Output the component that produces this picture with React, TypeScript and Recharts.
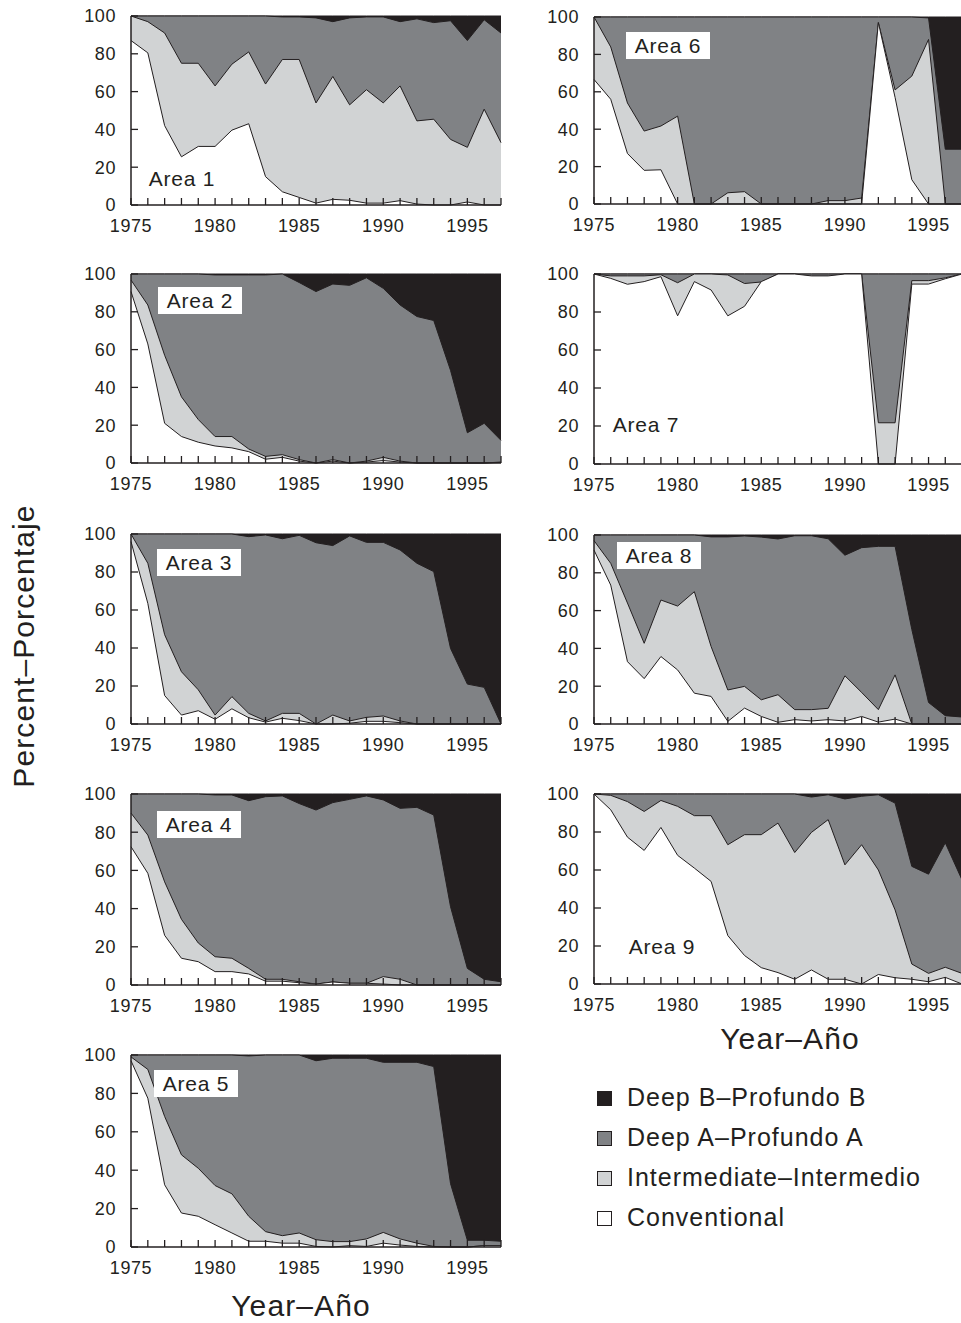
import { Area, AreaChart, XAxis, YAxis } from "recharts";

const INK = "#231f20";
const FILLS = {
  deepB: "#231f20",
  deepA: "#808285",
  intermediate: "#d1d3d4",
  conventional: "#ffffff",
};

const years = [
  1975, 1976, 1977, 1978, 1979, 1980, 1981, 1982, 1983, 1984, 1985, 1986,
  1987, 1988, 1989, 1990, 1991, 1992, 1993, 1994, 1995, 1996, 1997,
];
const yTicks = [0, 20, 40, 60, 80, 100];
const legendLabels = [
  "Deep B–Profundo B",
  "Deep A–Profundo A",
  "Intermediate–Intermedio",
  "Conventional",
];

// cumulative percent at the top of each class (conventional, + intermediate, + deep A)
const area1Conv = [87, 80.5, 42, 25.5, 31, 31, 39.6, 43, 15, 7, 4, 1, 3, 2.5, 1, 1, 2.3, 0.5, 0, 0, 1.6, 0, 0];
const area1Inter = [100, 97, 91, 75, 75, 63, 74.5, 81, 64, 77, 77, 54, 68, 53, 61, 54, 63, 44.5, 45.4, 34.7, 30.5, 50.7, 33];
const area1DeepA = [100, 100, 100, 100, 100, 100, 100, 100, 100, 99.5, 99.5, 99, 97, 99, 99.5, 99.5, 97, 98.5, 96.5, 97.5, 87, 98, 91];

const area2Conv = [90.7, 63, 21, 14, 11, 9, 8, 6, 2, 3, 1, 0, 1, 0, 0.5, 1.3, 0.5, 0, 0, 0, 0, 0, 0.3];
const area2Inter = [96.8, 83.6, 57, 35, 23, 14, 14, 7.4, 3.5, 4.4, 1.8, 0, 1.8, 0, 1, 3, 1, 0, 0, 0, 0, 0, 0.5];
const area2DeepA = [100, 100, 100, 100, 100, 99.5, 99.5, 99.5, 99.5, 100, 95.5, 90.7, 94.7, 94, 98, 92.4, 83.6, 77.5, 75.4, 49, 16, 21, 12];

const area3Conv = [96, 63.5, 15, 4.7, 7, 2.5, 8, 3.3, 1, 3, 1.8, 0, 0, 0.4, 1.4, 1.4, 0.7, 0, 0, 0, 0, 0, 0];
const area3Inter = [100, 84.6, 47, 27.5, 18, 4.7, 14.4, 5.6, 1.6, 5.6, 5.6, 0, 4.7, 1.6, 3.5, 4.2, 1.6, 0, 0, 0, 0, 0, 0];
const area3DeepA = [100, 100, 100, 100, 100, 100, 100, 98.6, 99.5, 97.5, 99.3, 95.4, 93.9, 99, 95.6, 95.6, 91.6, 84.6, 80.2, 39.8, 21, 19.3, 0];

const area4Conv = [72.4, 58.5, 26, 14, 12.2, 7, 7, 5.8, 2, 2, 1.2, 0.5, 1.6, 0.9, 0.9, 0.5, 0, 0, 0, 0, 0, 0, 0];
const area4Inter = [90, 78.5, 54, 34.4, 22, 14.8, 14, 8.7, 3, 3, 1.7, 0.5, 1.6, 0.9, 0.9, 4.4, 3, 0, 0, 0, 0, 0, 0];
const area4DeepA = [100, 100, 100, 100, 100, 99.5, 99.5, 96.5, 98.6, 99, 95, 91.6, 95.5, 97.2, 99, 96.9, 92.5, 93, 89, 41, 8.7, 3, 1.7];

const area5Conv = [97, 77.5, 32.4, 17.7, 16, 11.6, 7.3, 3, 3, 2, 2, 0.3, 0, 0.7, 0.3, 2, 1, 0.3, 0, 0, 0, 0.7, 0.7];
const area5Inter = [99, 92.5, 68, 48, 41, 32, 27.7, 16, 8, 5.9, 7.3, 3.8, 2.8, 2.8, 4.2, 7.6, 4.2, 2, 0.3, 0, 0, 0.7, 0.7];
const area5DeepA = [100, 100, 100, 100, 100, 100, 100, 99.5, 100, 100, 100, 97, 98.3, 98.3, 98.3, 96.2, 96.2, 96.2, 94, 33, 3.5, 3.5, 3];

const area6Conv = [66.6, 56, 27, 18, 18.3, 0, 0, 0, 0, 0, 0, 0, 0, 0, 0, 0, 0, 97, 57, 13, 0, 0, 0];
const area6Inter = [100, 84, 54, 39, 41.7, 47, 0, 0, 6, 6.6, 0, 0, 0, 0, 1.8, 1.8, 3.2, 97, 61, 68.4, 88, 0, 0];
const area6DeepA = [100, 100, 100, 100, 100, 100, 100, 100, 100, 100, 100, 100, 100, 100, 100, 100, 100, 100, 100, 100, 99.5, 29.3, 29.3];

const area7Conv = [100, 97.7, 94.6, 96, 98.6, 78, 96, 91.6, 78, 83, 96, 100, 100, 99, 99, 100, 100, 0, 0, 94.7, 94.7, 97.5, 100];
const area7Inter = [100, 99, 99, 99, 99.6, 95.4, 100, 100, 99.5, 95, 95.8, 100, 100, 98, 98, 100, 100, 21.7, 21.7, 96.5, 96.5, 98, 100];
const area7DeepA = [100, 100, 100, 100, 100, 100, 100, 100, 100, 100, 100, 100, 100, 100, 100, 100, 100, 100, 100, 100, 100, 100, 100];

const area8Conv = [92, 73.5, 33, 24, 35.7, 28.6, 16.3, 14.6, 1.4, 8.4, 4, 0.9, 2.3, 1.6, 2.3, 1.6, 4, 1, 2.6, 0, 0, 0, 0];
const area8Inter = [97, 85, 64, 42.7, 65.6, 62.4, 70, 41, 18, 19.9, 12.8, 15.5, 7.6, 7.6, 8.3, 25.5, 16.7, 7.6, 26, 0, 0, 0, 0];
const area8DeepA = [100, 100, 100, 100, 100, 100, 100, 99, 99, 99.5, 98.9, 97.9, 99.6, 99.6, 98, 89.3, 93.3, 94, 94, 50, 11.4, 4.4, 3.7];

const area9Conv = [100, 91.7, 77.3, 70.3, 82.4, 67.7, 61, 54, 25.5, 15, 8.6, 6, 2.5, 7.4, 2.5, 2.5, 0, 5, 3.3, 2.5, 1.2, 3.5, 0];
const area9Inter = [100, 99.3, 96, 90.8, 96.6, 93.5, 88.6, 88.6, 73.3, 78.6, 78.6, 84.7, 69.2, 79.8, 86.5, 62.7, 73.3, 60, 39, 10.5, 5.6, 8.8, 5.6];
const area9DeepA = [100, 100, 100, 100, 100, 100, 100, 100, 100, 100, 100, 100, 100, 98.4, 99.6, 97.4, 98.8, 99.6, 95.2, 61.9, 57.8, 74.3, 54.8];

type PanelSpec = {
  label: string;
  conv: number[];
  inter: number[];
  deepA: number[];
  left: number;
  top: number;
  width: number;
  height: number;
  labelX: number;
  labelY: number;
  boxed: boolean;
};

const LEFT_X = 131;
const RIGHT_X = 594;

const panels: PanelSpec[] = [
  { label: "Area 1", conv: area1Conv, inter: area1Inter, deepA: area1DeepA, left: LEFT_X, top: 16, width: 370, height: 189, labelX: 182, labelY: 178, boxed: false },
  { label: "Area 2", conv: area2Conv, inter: area2Inter, deepA: area2DeepA, left: LEFT_X, top: 274, width: 370, height: 189, labelX: 200, labelY: 300, boxed: true },
  { label: "Area 3", conv: area3Conv, inter: area3Inter, deepA: area3DeepA, left: LEFT_X, top: 534, width: 370, height: 190, labelX: 199, labelY: 562, boxed: true },
  { label: "Area 4", conv: area4Conv, inter: area4Inter, deepA: area4DeepA, left: LEFT_X, top: 794, width: 370, height: 191, labelX: 199, labelY: 824, boxed: true },
  { label: "Area 5", conv: area5Conv, inter: area5Inter, deepA: area5DeepA, left: LEFT_X, top: 1055, width: 370, height: 192, labelX: 196, labelY: 1083, boxed: true },
  { label: "Area 6", conv: area6Conv, inter: area6Inter, deepA: area6DeepA, left: RIGHT_X, top: 17, width: 368, height: 187, labelX: 668, labelY: 45, boxed: true },
  { label: "Area 7", conv: area7Conv, inter: area7Inter, deepA: area7DeepA, left: RIGHT_X, top: 274, width: 368, height: 190, labelX: 646, labelY: 424, boxed: false },
  { label: "Area 8", conv: area8Conv, inter: area8Inter, deepA: area8DeepA, left: RIGHT_X, top: 535, width: 368, height: 189, labelX: 659, labelY: 555, boxed: true },
  { label: "Area 9", conv: area9Conv, inter: area9Inter, deepA: area9DeepA, left: RIGHT_X, top: 794, width: 368, height: 190, labelX: 662, labelY: 946, boxed: false },
];

const AXIS_W = 60;
const MARGIN_TOP = 10;
const MARGIN_RIGHT = 10;
const X_AXIS_H = 40;

function Panel({ p }: { p: PanelSpec }) {
  // layers are drawn back to front, each from 0 up to its cumulative top
  const rows = years.map((year, i) => ({
    year,
    total: 100,
    deepA: p.deepA[i],
    intermediate: p.inter[i],
    conventional: p.conv[i],
  }));

  const tickStyle = { fill: INK, fontSize: 18, letterSpacing: 0.6 };

  return (
    <>
      <div style={{ position: "absolute", left: p.left - AXIS_W, top: p.top - MARGIN_TOP }}>
        <AreaChart
          width={AXIS_W + p.width + MARGIN_RIGHT}
          height={MARGIN_TOP + p.height + X_AXIS_H}
          data={rows}
          margin={{ top: MARGIN_TOP, right: MARGIN_RIGHT, left: 0, bottom: 0 }}
        >
          <XAxis
            dataKey="year"
            type="number"
            domain={[1975, 1997]}
            ticks={years}
            interval={0}
            height={X_AXIS_H}
            tickSize={-7}
            tickMargin={21}
            tick={tickStyle}
            tickFormatter={(v) => (Number(v) % 5 === 0 ? String(v) : "")}
            axisLine={{ stroke: INK, strokeWidth: 1.5 }}
            tickLine={{ stroke: INK, strokeWidth: 1.3 }}
          />
          <YAxis
            type="number"
            domain={[0, 100]}
            ticks={yTicks}
            interval={0}
            width={AXIS_W}
            tickSize={-7}
            tickMargin={22}
            tick={tickStyle}
            axisLine={{ stroke: INK, strokeWidth: 1.5 }}
            tickLine={{ stroke: INK, strokeWidth: 1.3 }}
          />
          <XAxis
            xAxisId="top"
            orientation="top"
            dataKey="year"
            type="number"
            domain={[1975, 1997]}
            height={0}
            tick={false}
            tickLine={false}
            axisLine={{ stroke: INK, strokeWidth: 1.5 }}
          />
          <YAxis
            yAxisId="right"
            orientation="right"
            type="number"
            domain={[0, 100]}
            width={0}
            tick={false}
            tickLine={false}
            axisLine={{ stroke: INK, strokeWidth: 1.5 }}
          />
          <Area type="linear" dataKey="total" stroke={INK} strokeWidth={1} fill={FILLS.deepB} fillOpacity={1} dot={false} activeDot={false} isAnimationActive={false} />
          <Area type="linear" dataKey="deepA" stroke={INK} strokeWidth={1} fill={FILLS.deepA} fillOpacity={1} dot={false} activeDot={false} isAnimationActive={false} />
          <Area type="linear" dataKey="intermediate" stroke={INK} strokeWidth={1} fill={FILLS.intermediate} fillOpacity={1} dot={false} activeDot={false} isAnimationActive={false} />
          <Area type="linear" dataKey="conventional" stroke={INK} strokeWidth={1} fill={FILLS.conventional} fillOpacity={1} dot={false} activeDot={false} isAnimationActive={false} />
        </AreaChart>
      </div>
      <div
        style={{
          position: "absolute",
          left: p.labelX - 42,
          top: p.labelY - 13.5,
          width: 84,
          height: 27,
          lineHeight: "27px",
          textAlign: "center",
          fontSize: 21,
          letterSpacing: 0.8,
          background: p.boxed ? "#ffffff" : "transparent",
        }}
      >
        {p.label}
      </div>
    </>
  );
}

const legendRows = [1098, 1138, 1178, 1218];
const legendFills = [FILLS.deepB, FILLS.deepA, FILLS.intermediate, FILLS.conventional];

export default function App() {
  return (
    <div
      style={{
        position: "absolute",
        left: 0,
        top: 0,
        width: 961,
        height: 1323,
        overflow: "hidden",
        background: "#ffffff",
        color: INK,
        fontFamily: "'Liberation Sans', Arial, Helvetica, sans-serif",
      }}
    >
      {panels.map((p) => (
        <Panel key={p.label} p={p} />
      ))}

      <div
        style={{
          position: "absolute",
          left: 24,
          top: 646,
          transform: "translate(-50%, -50%) rotate(-90deg)",
          whiteSpace: "nowrap",
          fontSize: 30,
          letterSpacing: 1.1,
          lineHeight: 1,
        }}
      >
        Percent–Porcentaje
      </div>
      <div style={{ position: "absolute", left: 301, top: 1306, transform: "translate(-50%, -50%)", whiteSpace: "nowrap", fontSize: 30, letterSpacing: 1.1, lineHeight: 1 }}>
        Year–Año
      </div>
      <div style={{ position: "absolute", left: 790, top: 1039, transform: "translate(-50%, -50%)", whiteSpace: "nowrap", fontSize: 30, letterSpacing: 1.1, lineHeight: 1 }}>
        Year–Año
      </div>

      {legendLabels.map((name, i) => (
        <div key={name}>
          <div
            style={{
              position: "absolute",
              left: 597,
              top: legendRows[i] - 7,
              width: 13,
              height: 13,
              border: `1px solid ${INK}`,
              background: legendFills[i],
            }}
          />
          <div
            style={{
              position: "absolute",
              left: 627,
              top: legendRows[i] - 1,
              transform: "translateY(-50%)",
              whiteSpace: "nowrap",
              fontSize: 25,
              letterSpacing: 1,
              lineHeight: 1,
            }}
          >
            {name}
          </div>
        </div>
      ))}
    </div>
  );
}
